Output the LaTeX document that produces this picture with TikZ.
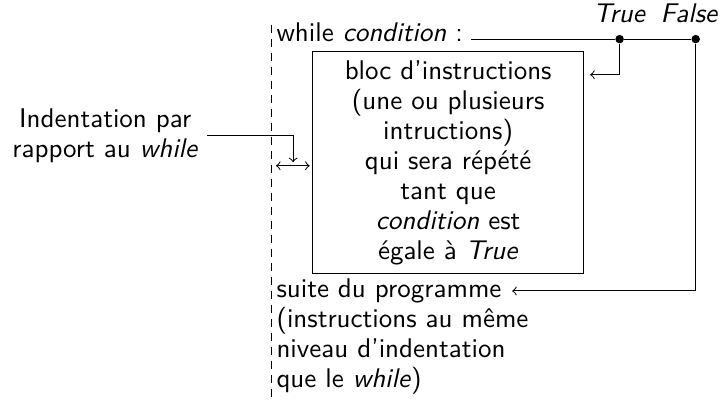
\documentclass[tikz,border=0pt]{standalone}
\usepackage{fontspec}
\usepackage{tikz}
\usetikzlibrary{positioning}

\tikzset{
  txt/.style={font=\sffamily\fontsize{10.8}{12}\selectfont},
  branchdot/.style={circle,fill,inner sep=0pt,minimum size=3.4pt},
}

\begin{document}
\begin{tikzpicture}
\useasboundingbox (0,0) rectangle (10.22,5.65);

% indentation level of the while
\coordinate (dtop) at (3.82,5.30);
\coordinate (dbot) at (3.82,0);
\draw[dash pattern=on 3.2pt off 2.4pt] (dtop) -- (dbot);

% header line and the two branches
\node[txt,anchor=base west,inner sep=0pt] (while) at (3.88,5.06) {while \textit{condition} :};
\node[branchdot] (tdot) at (8.71,5.10) {};
\node[branchdot] (fdot) at (9.78,5.10) {};
\draw ([xshift=3.2pt]while.east |- tdot) -- (tdot) -- (fdot);
\node[txt,above=1pt of tdot] (truelbl) {\textit{True}};
\node[txt,above=1pt of fdot,xshift=-2.5pt] (falselbl) {\textit{False}};

% loop body
\node[txt,draw,align=center,minimum width=3.81cm,minimum height=3.12cm] (bloc) at (6.30,3.36) {
bloc d'instructions\\
(une ou plusieurs\\
intructions)\\
qui sera répété\\
tant que\\
\textit{condition} est\\
égale à \textit{True}};

\coordinate (blocin) at ([xshift=2.4pt]bloc.east |- 0,4.60);
\draw[->] (tdot) |- (blocin);

% after the loop
\node[txt,align=left,anchor=north west,inner sep=0pt] (suite) at (3.88,1.74) {
suite du programme\\
(instructions au même\\
niveau d'indentation\\
que le \textit{while})};

\coordinate (suitein) at (7.20,1.56);
\draw[->] (fdot) |- (suitein);

% indentation label
\node[txt,align=center] (indent) at (1.48,3.74) {Indentation par\\rapport au \textit{while}};
\coordinate (indtip) at (4.12,3.37);
\draw[->] (indent.east) -| (indtip);
\coordinate (indl) at (3.88,3.32);
\draw[<->,shorten >=1pt] (indl) -- (bloc.west |- indl);
\end{tikzpicture}
\end{document}
